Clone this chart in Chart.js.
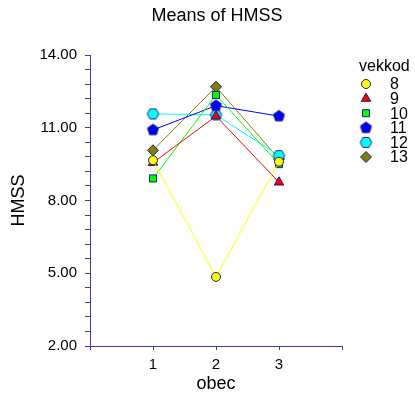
<!DOCTYPE html>
<html>
<head>
<meta charset="utf-8">
<script src="https://cdn.jsdelivr.net/npm/chart.js@4"></script>
<style>
  html, body { margin: 0; padding: 0; background: #fff; }
  #wrap { width: 415px; height: 396px; }
</style>
</head>
<body>
<div id="wrap"><canvas id="chart" width="415" height="396"></canvas></div>
<script>
// データ
const obecValues = [1, 2, 3];
const vekkodLabels = ["8", "9", "10", "11", "12", "13"];
const means8 = [9.66, 4.85, 9.6];
const means9 = [9.56, 11.48, 8.75];
const means10 = [8.91, 12.35, 9.5];
const means11 = [10.91, 11.91, 11.48];
const means12 = [11.57, 11.53, 9.85];
const means13 = [10.07, 12.69, 9.71];
const yTickLabels = ["2.00", "5.00", "8.00", "11.00", "14.00"];

const AXIS = "#3c3ca0";
const EDGE = "#1c1c78";
const FONT = "'Liberation Sans', Arial, sans-serif";

// Chart.js にない五角形・六角形を canvas で作る
function polyMarker(sides, r, fill, rot) {
  const c = document.createElement("canvas");
  const s = Math.ceil(r * 2 + 3);
  c.width = s; c.height = s;
  const g = c.getContext("2d");
  g.beginPath();
  for (let i = 0; i < sides; i++) {
    const a = rot + (i * 2 * Math.PI) / sides;
    const x = s / 2 + r * Math.cos(a);
    const y = s / 2 + r * Math.sin(a);
    if (i === 0) g.moveTo(x, y); else g.lineTo(x, y);
  }
  g.closePath();
  g.fillStyle = fill;
  g.fill();
  g.lineWidth = 1;
  g.strokeStyle = EDGE;
  g.stroke();
  return c;
}

const pentagon = polyMarker(5, 5.8, "#0000ff", -Math.PI / 2);
const hexagon = polyMarker(6, 5.8, "#00ffff", 0);

const seriesList = [
  { data: means8, color: "#ffff00", style: "circle", radius: 4.5 },
  { data: means9, color: "#ff0000", style: "triangle", radius: 5.5 },
  { data: means10, color: "#00ff00", style: "rect", radius: 5 },
  { data: means11, color: "#0000ff", style: pentagon, radius: 5 },
  { data: means12, color: "#00ffff", style: hexagon, radius: 5 },
  { data: means13, color: "#808000", style: "rectRot", radius: 5.5 },
];

const datasets = seriesList.map((s, i) => ({
  label: vekkodLabels[i],
  data: obecValues.map((x, j) => ({ x: x, y: s.data[j] })),
  showLine: true,
  borderColor: s.color,
  borderWidth: 1,
  pointStyle: s.style,
  pointRadius: s.radius,
  pointBackgroundColor: s.color,
  pointBorderColor: EDGE,
  pointBorderWidth: 1,
}));

// タイトルと凡例を描くプラグイン
const decor = {
  id: "decor",
  afterDraw(chart) {
    const ctx = chart.ctx;
    ctx.save();
    ctx.fillStyle = "#000";
    ctx.textBaseline = "middle";
    ctx.textAlign = "center";
    ctx.font = "18px " + FONT;
    ctx.fillText("Means of HMSS", 217, 16);

    ctx.textAlign = "left";
    ctx.font = "16px " + FONT;
    ctx.fillText("vekkod", 359, 67);
    seriesList.forEach((s, i) => {
      const y = 84 + i * 14.6;
      ctx.fillStyle = s.color;
      ctx.strokeStyle = EDGE;
      ctx.lineWidth = 1;
      Chart.helpers.drawPoint(ctx, { pointStyle: s.style, radius: s.radius, borderWidth: 1 }, 366, y);
      ctx.fillStyle = "#000";
      ctx.fillText(vekkodLabels[i], 390, y + 1);
    });
    ctx.restore();
  },
};

new Chart(document.getElementById("chart"), {
  type: "scatter",
  data: { datasets },
  plugins: [decor],
  options: {
    responsive: false,
    animation: false,
    layout: { padding: { top: 55, right: 73, left: 0, bottom: 0 } },
    plugins: {
      legend: { display: false },
      title: { display: false },
      tooltip: { enabled: false },
    },
    scales: {
      x: {
        type: "linear",
        min: 0,
        max: 4,
        afterFit: (s) => { s.height = 50; },
        afterBuildTicks: (s) => { s.ticks = [0, 1, 2, 3, 4].map((v) => ({ value: v })); },
        border: { color: AXIS, width: 1 },
        grid: { drawOnChartArea: false, color: AXIS, tickLength: 4 },
        ticks: {
          color: "#000",
          font: { family: FONT, size: 15 },
          padding: 6,
          maxRotation: 0,
          callback: (v) => (v >= 1 && v <= 3 ? String(v) : ""),
        },
        title: {
          display: true,
          text: "obec",
          color: "#000",
          font: { family: FONT, size: 18 },
          padding: { top: 0, bottom: 1 },
        },
      },
      y: {
        type: "linear",
        min: 2,
        max: 14,
        afterFit: (s) => { s.width = 90; },
        afterBuildTicks: (s) => {
          const t = [];
          for (let i = 0; i <= 20; i++) t.push({ value: 2 + i * 0.6 });
          s.ticks = t;
        },
        border: { color: AXIS, width: 1 },
        grid: { drawOnChartArea: false, color: AXIS, tickLength: 5 },
        ticks: {
          color: "#000",
          font: { family: FONT, size: 15 },
          padding: 8,
          autoSkip: false,
          callback: (v, i) => (i % 5 === 0 ? yTickLabels[i / 5] : ""),
        },
        title: {
          display: true,
          text: "HMSS",
          color: "#000",
          font: { family: FONT, size: 18 },
          padding: { top: 8, bottom: 0 },
        },
      },
    },
  },
});
</script>
</body>
</html>
